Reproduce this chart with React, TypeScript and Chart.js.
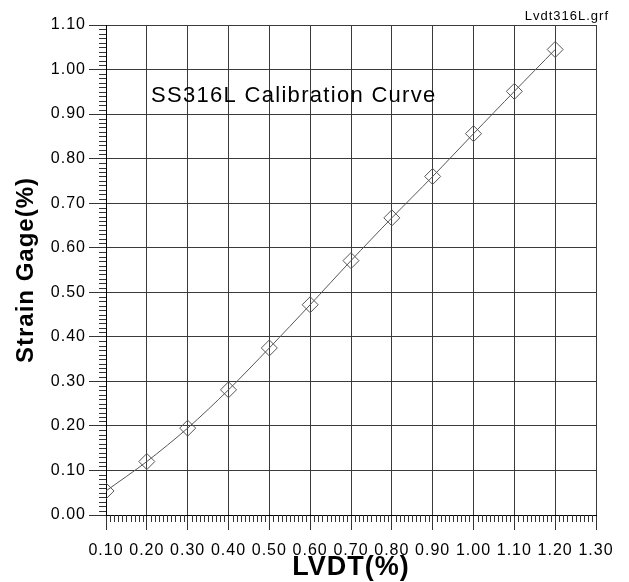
import React, { useEffect, useRef } from "react";
import { Chart, registerables } from "chart.js";

Chart.register(...registerables);

const lvdt = [0.1, 0.2, 0.3, 0.4, 0.5, 0.6, 0.7, 0.8, 0.9, 1.0, 1.1, 1.2];
const strain = [0.054, 0.12, 0.195, 0.281, 0.375, 0.472, 0.571, 0.667, 0.76, 0.856, 0.951, 1.045];
const xTicks = { min: 0.1, max: 1.3, step: 0.1 };
const yTicks = { min: 0.0, max: 1.1, step: 0.1 };
const plotTitle = "SS316L Calibration Curve";
const fileLabel = "Lvdt316L.grf";
const xTitle = "LVDT(%)";
const yTitle = "Strain Gage(%)";

const FONT = "'Liberation Sans', Arial, sans-serif";

const extrasPlugin = {
  id: "extras",
  beforeDraw(chart: any) {
    chart.ctx.letterSpacing = "1px";
  },
  afterDraw(chart: any) {
    const ctx = chart.ctx;
    const xs = chart.scales.x;
    const ys = chart.scales.y;
    ctx.save();
    ctx.strokeStyle = "#333";
    ctx.lineWidth = 1;
    ctx.beginPath();
    const yStart = Math.round(yTicks.min * 100);
    const yEnd = Math.round(yTicks.max * 100);
    for (let i = yStart; i <= yEnd; i++) {
      if (i % 10 === 0) continue;
      const py = Math.round(ys.getPixelForValue(i / 100)) + 0.5;
      ctx.moveTo(ys.right - 7, py);
      ctx.lineTo(ys.right, py);
    }
    const xStart = Math.round(xTicks.min * 100);
    const xEnd = Math.round(xTicks.max * 100);
    for (let i = xStart; i <= xEnd; i++) {
      if (i % 10 === 0) continue;
      const px = Math.round(xs.getPixelForValue(i / 100)) + 0.5;
      ctx.moveTo(px, xs.top);
      ctx.lineTo(px, xs.top + 7);
    }
    ctx.stroke();
    ctx.fillStyle = "#000";
    ctx.letterSpacing = "1.3px";
    ctx.font = `22px ${FONT}`;
    ctx.textAlign = "left";
    ctx.textBaseline = "alphabetic";
    ctx.fillText(plotTitle, 151, 102);
    ctx.letterSpacing = "1px";
    ctx.font = `13px ${FONT}`;
    ctx.textAlign = "right";
    ctx.fillText(fileLabel, 609, 20);
    ctx.restore();
  },
};

export default function App() {
  const ref = useRef<HTMLCanvasElement | null>(null);
  useEffect(() => {
    if (!ref.current) return;
    const chart = new Chart(ref.current, {
      type: "scatter",
      data: {
        datasets: [
          {
            data: lvdt.map((x, i) => ({ x, y: strain[i] })),
            showLine: true,
            borderColor: "#555",
            borderWidth: 1,
            tension: 0.3,
            pointStyle: "rectRot",
            pointRadius: 8,
            pointHoverRadius: 8,
            pointBorderColor: "#555",
            pointBorderWidth: 1,
            pointBackgroundColor: "rgba(0,0,0,0)",
          },
        ],
      },
      options: {
        responsive: false,
        animation: false,
        events: [],
        layout: { padding: { top: 25, right: 33, left: 0, bottom: 0 } },
        plugins: { legend: { display: false }, tooltip: { enabled: false }, title: { display: false } },
        scales: {
          x: {
            type: "linear",
            min: xTicks.min,
            max: xTicks.max,
            afterFit: (s: any) => {
              s.height = 67;
            },
            ticks: {
              stepSize: xTicks.step,
              autoSkip: false,
              maxRotation: 0,
              padding: 11,
              color: "#000",
              font: { family: FONT, size: 16 },
              callback: (v: any) => Number(v).toFixed(2),
            },
            grid: { color: "#3a3a3a", lineWidth: 1, tickLength: 15, tickColor: "#333" },
            border: { color: "#000", width: 1 },
            title: {
              display: true,
              text: xTitle,
              color: "#000",
              font: { family: FONT, size: 27, weight: "bold", lineHeight: 1.1 },
              padding: 0,
            },
          },
          y: {
            type: "linear",
            min: yTicks.min,
            max: yTicks.max,
            afterFit: (s: any) => {
              s.width = 106;
            },
            ticks: {
              stepSize: yTicks.step,
              autoSkip: false,
              padding: 3,
              color: "#000",
              font: { family: FONT, size: 16 },
              callback: (v: any) => Number(v).toFixed(2),
            },
            grid: { color: "#3a3a3a", lineWidth: 1, tickLength: 17, tickColor: "#333" },
            border: { color: "#000", width: 1 },
            title: {
              display: true,
              text: yTitle,
              color: "#000",
              font: { family: FONT, size: 24, weight: "bold", lineHeight: 1.2 },
              padding: { top: 11.5, bottom: 0 },
            },
          },
        },
      },
      plugins: [extrasPlugin],
    } as any);
    return () => chart.destroy();
  }, []);
  return (
    <div style={{ position: "absolute", left: 0, top: 0, width: 629, height: 582, background: "#fff" }}>
      <canvas ref={ref} width={629} height={582} style={{ display: "block" }} />
    </div>
  );
}
